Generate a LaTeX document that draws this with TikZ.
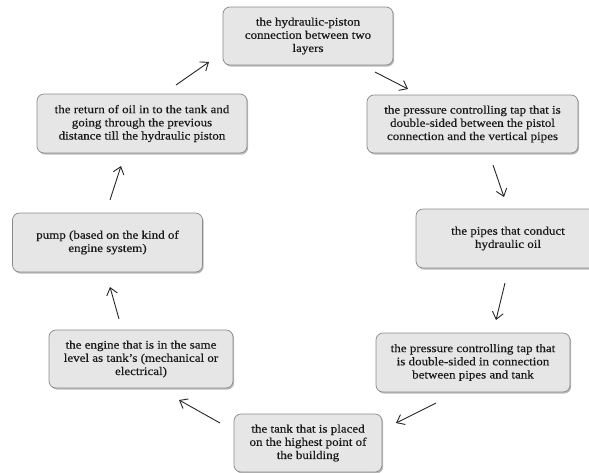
\documentclass[tikz,border=0pt]{standalone}
\usepackage{fontspec}
\setmainfont[FakeStretch=1.12,FakeBold=0.35]{Liberation Serif}
\usetikzlibrary{shadows,arrows.meta}
\definecolor{boxfill}{HTML}{E6E6E6}
\definecolor{boxline}{HTML}{8A8A8A}
\begin{document}
\begin{tikzpicture}[x=1pt,y=-1pt,
  stepbox/.style={draw=boxline, fill=boxfill, rounded corners=7pt, line width=0.7pt,
    drop shadow={shadow xshift=1.2pt, shadow yshift=-1.6pt, opacity=0.45, fill=black!60},
    align=center, font=\fontsize{11.6}{13.2}\selectfont, inner sep=0pt, text=black!90},
  flow/.style={-{Straight Barb[length=7pt,width=11pt]}, line width=0.9pt, black!85}]
\useasboundingbox (0,0) rectangle (589,472);

\node[stepbox, minimum width=170pt, minimum height=58pt] (piston) at (308,36)
  {the hydraulic-piston\\connection between two\\layers};
\node[stepbox, minimum width=211pt, minimum height=58pt] (tapA) at (472.5,124)
  {the pressure controlling tap that is\\double-sided between the pistol\\connection and the vertical pipes};
\node[stepbox, minimum width=184pt, minimum height=59pt] (pipes) at (508,238.5)
  {the pipes that conduct\\hydraulic oil};
\node[stepbox, minimum width=194pt, minimum height=59pt] (tapB) at (473,362.5)
  {the pressure controlling tap that\\is double-sided in connection\\between pipes and tank};
\node[stepbox, minimum width=148pt, minimum height=58pt] (tank) at (308,443)
  {the tank that is placed\\on the highest point of\\the building};
\node[stepbox, minimum width=184pt, minimum height=58pt] (engine) at (141,359)
  {the engine that is in the same\\level as tank's (mechanical or\\electrical)};
\node[stepbox, minimum width=190pt, minimum height=59pt] (pump) at (107.5,242.5)
  {pump (based on the kind of\\engine system)};
\node[stepbox, minimum width=210pt, minimum height=59pt] (return) at (142,123.5)
  {the return of oil in to the tank and\\going through the previous\\distance till the hydraulic piston};

\coordinate (a1s) at (375,72);  \coordinate (a1e) at (408,89);
\coordinate (a2s) at (493,165); \coordinate (a2e) at (504,197);
\coordinate (a3s) at (505,283); \coordinate (a3e) at (496,320);
\coordinate (a4s) at (436,403); \coordinate (a4e) at (396,423);
\coordinate (a5s) at (220,423); \coordinate (a5e) at (179,400);
\coordinate (a6s) at (119,319); \coordinate (a6e) at (110,287);
\coordinate (a7s) at (110,200); \coordinate (a7e) at (121,166);
\coordinate (a8s) at (176,85);  \coordinate (a8e) at (209,62);

\draw[flow] (a1s) -- (a1e);
\draw[flow] (a2s) -- (a2e);
\draw[flow] (a3s) -- (a3e);
\draw[flow] (a4s) -- (a4e);
\draw[flow] (a5s) -- (a5e);
\draw[flow] (a6s) -- (a6e);
\draw[flow] (a7s) -- (a7e);
\draw[flow] (a8s) -- (a8e);
\end{tikzpicture}
\end{document}
